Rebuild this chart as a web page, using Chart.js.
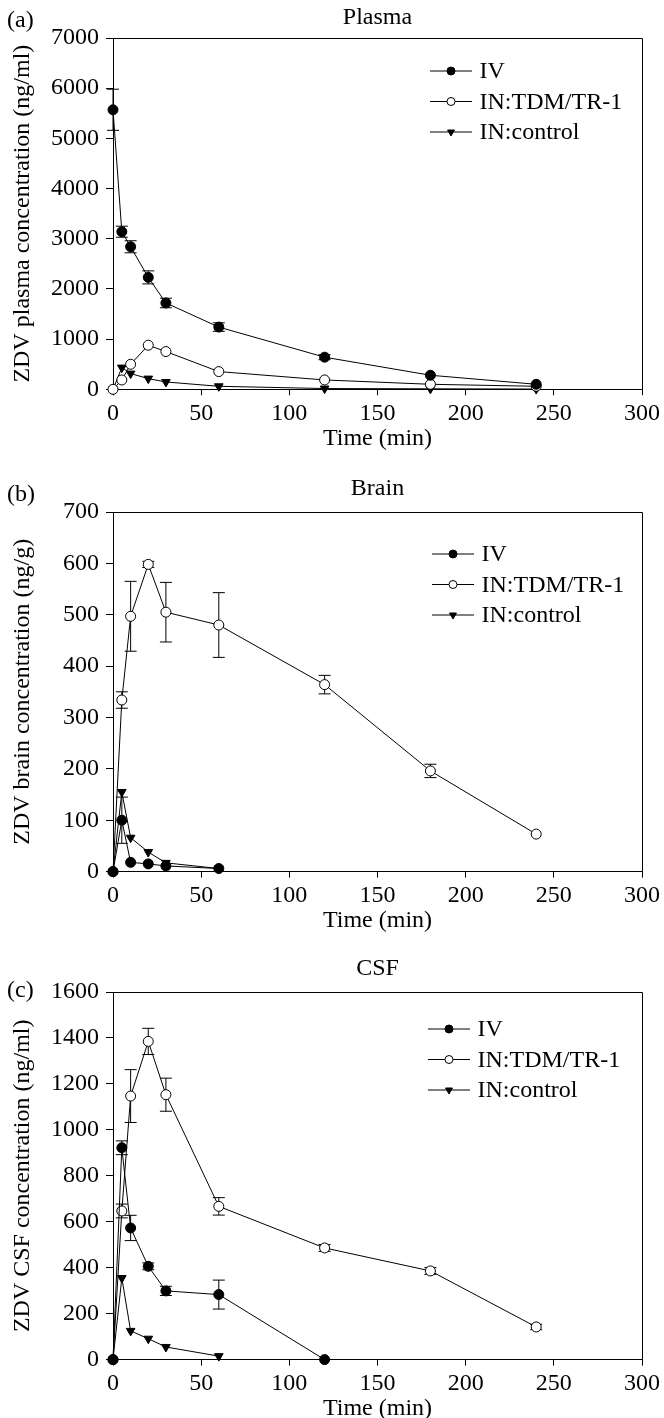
<!DOCTYPE html>
<html>
<head>
<meta charset="utf-8">
<script src="https://cdn.jsdelivr.net/npm/chart.js@4.4.0/dist/chart.umd.min.js"></script>
<style>
  html, body { margin: 0; padding: 0; background: #fff; overflow: hidden; }
  body { width: 664px; height: 1418px; position: relative; }
  canvas { position: absolute; left: 0; }
</style>
</head>
<body>
<canvas id="plasmaChart"></canvas>
<canvas id="brainChart"></canvas>
<canvas id="csfChart"></canvas>
<script>
// sampling times (min)
const timesAll = [0, 5, 10, 20, 30, 60, 120, 180, 240];
const timesShort = [0, 5, 10, 20, 30, 60];
const timesCsfIV = [0, 5, 10, 20, 30, 60, 120];

const seriesNames = ['IV', 'IN:TDM/TR-1', 'IN:control'];

// (a) plasma, ng/ml
const plasmaIV = [5570, 3140, 2840, 2230, 1720, 1240, 640, 280, 100];
const plasmaIVErr = [410, 110, 120, 130, 95, 85, 50, 0, 0];
const plasmaTDM = [0, 186, 499, 878, 752, 353, 186, 100, 60];
const plasmaCtrl = [0, 432, 313, 213, 146, 60, 15, 10, 5];

// (b) brain, ng/g
const brainIV = [0, 100, 18, 15, 11, 6];
const brainIVErr = [0, 45, 0, 0, 0, 0];
const brainTDM = [0, 334, 497, 598, 505, 480, 364, 196, 73];
const brainTDMErr = [0, 16, 68, 6, 58, 63, 18, 13, 0];
const brainCtrl = [0, 155, 66, 38, 17, 6];

// (c) CSF, ng/ml
const csfIV = [0, 922, 573, 406, 299, 283, 0];
const csfIVErr = [0, 30, 55, 15, 20, 63, 0];
const csfTDM = [0, 647, 1147, 1385, 1153, 667, 486, 386, 142];
const csfTDMErr = [0, 30, 115, 57, 72, 38, 15, 15, 12];
const csfCtrl = [0, 355, 125, 91, 55, 15];

const FONT = { family: '"Liberation Serif", "Times New Roman", serif', size: 24 };
const PLOT_LEFT = 113;
const PLOT_RIGHT = 643;
const PAD_TOP = 38;
const X_AXIS_H = 63.4;

function pts(xs, ys) {
  return xs.map((x, i) => ({ x: x, y: ys[i] }));
}

function marker(ctx, style, x, y, r, fill) {
  ctx.beginPath();
  if (style === 'circle') {
    ctx.arc(x, y, r, 0, Math.PI * 2);
  } else {
    ctx.moveTo(x - r * 0.866, y - r * 0.5);
    ctx.lineTo(x + r * 0.866, y - r * 0.5);
    ctx.lineTo(x, y + r);
    ctx.closePath();
  }
  ctx.fillStyle = fill;
  ctx.fill();
  ctx.strokeStyle = '#000';
  ctx.lineWidth = 1;
  ctx.stroke();
}

// error bars, frame, title, panel letter and legend
const extras = {
  id: 'extras',
  beforeDatasetsDraw(chart) {
    const ctx = chart.ctx;
    const y = chart.scales.y;
    ctx.save();
    ctx.strokeStyle = '#000';
    ctx.lineWidth = 1;
    chart.data.datasets.forEach((ds, di) => {
      if (!ds.errors) return;
      const meta = chart.getDatasetMeta(di);
      ds.data.forEach((p, i) => {
        const e = ds.errors[i];
        if (!e) return;
        const px = meta.data[i].x;
        const top = y.getPixelForValue(p.y + e);
        const bot = y.getPixelForValue(p.y - e);
        ctx.beginPath();
        ctx.moveTo(px, top); ctx.lineTo(px, bot);
        ctx.moveTo(px - 6, top); ctx.lineTo(px + 6, top);
        ctx.moveTo(px - 6, bot); ctx.lineTo(px + 6, bot);
        ctx.stroke();
      });
    });
    ctx.restore();
  },
  afterDraw(chart, args, o) {
    const ctx = chart.ctx;
    const a = chart.chartArea;
    ctx.save();
    ctx.strokeStyle = '#000';
    ctx.lineWidth = 1;
    ctx.beginPath();
    ctx.moveTo(Math.round(a.left) + 0.5, Math.round(a.top) + 0.5);
    ctx.lineTo(Math.round(a.right) + 0.5, Math.round(a.top) + 0.5);
    ctx.lineTo(Math.round(a.right) + 0.5, Math.round(a.bottom) + 0.5);
    ctx.stroke();

    ctx.fillStyle = '#000';
    ctx.font = FONT.size + 'px ' + FONT.family;
    ctx.textBaseline = 'middle';
    ctx.textAlign = 'center';
    ctx.fillText(o.title, (a.left + a.right) / 2, a.top + o.titleDy);
    ctx.textAlign = 'left';
    ctx.fillText(o.letter, 7, a.top + o.letterDy);

    const lx = a.left + 317 + o.legendDx;
    chart.data.datasets.forEach((ds, i) => {
      const ly = a.top + o.legendDy + i * 30.5;
      ctx.beginPath();
      ctx.moveTo(lx, ly); ctx.lineTo(lx + 42, ly);
      ctx.stroke();
      marker(ctx, ds.pointStyle, lx + 21, ly, 4, ds.pointBackgroundColor);
      ctx.fillStyle = '#000';
      ctx.fillText(ds.label, lx + 49.5, ly + 1);
    });
    ctx.restore();
  }
};

function series(label, xs, ys, errs, style, fill) {
  return {
    label: label,
    data: pts(xs, ys),
    errors: errs,
    borderColor: '#000',
    borderWidth: 1,
    pointStyle: style,
    pointRotation: style === 'triangle' ? 180 : 0,
    pointRadius: 5,
    pointBorderWidth: 1,
    pointBorderColor: '#000',
    pointBackgroundColor: fill,
    tension: 0,
    fill: false,
    clip: false
  };
}

const plainNum = v => String(v);

function makePanel(id, p) {
  const canvas = document.getElementById(id);
  const plotH = p.bottom - p.top;
  const h = Math.ceil(PAD_TOP + plotH + X_AXIS_H + 3);
  canvas.width = 664;
  canvas.height = h;
  canvas.style.top = (p.top - PAD_TOP) + 'px';
  return new Chart(canvas, {
    type: 'line',
    data: { datasets: p.datasets },
    options: {
      responsive: false,
      animation: false,
      layout: { padding: { top: PAD_TOP, bottom: h - PAD_TOP - plotH - X_AXIS_H, left: 0, right: 664 - PLOT_RIGHT } },
      plugins: {
        legend: { display: false },
        tooltip: { enabled: false },
        extras: p.text
      },
      scales: {
        x: {
          type: 'linear', min: 0, max: 300,
          ticks: { stepSize: 50, color: '#000', font: FONT, padding: 4, callback: plainNum },
          grid: { drawOnChartArea: false, drawTicks: true, tickLength: 6, tickColor: '#000' },
          border: { color: '#000', width: 1 },
          title: { display: true, text: 'Time (min)', color: '#000', font: FONT, padding: 0 },
          afterFit(s) { s.height = X_AXIS_H; }
        },
        y: {
          min: 0, max: p.yMax,
          ticks: { stepSize: p.yStep, color: '#000', font: FONT, padding: 7, callback: plainNum },
          grid: { drawOnChartArea: false, drawTicks: true, tickLength: 7, tickColor: '#000' },
          border: { color: '#000', width: 1 },
          title: { display: true, text: p.yTitle, color: '#000', font: FONT, padding: { top: 8, bottom: 0 } },
          afterFit(s) { s.width = PLOT_LEFT; }
        }
      }
    },
    plugins: [extras]
  });
}

makePanel('plasmaChart', {
  top: 37.7, bottom: 389, yMax: 7000, yStep: 1000,
  yTitle: 'ZDV plasma concentration (ng/ml)',
  text: { title: 'Plasma', titleDy: -20, letter: '(a)', letterDy: -17, legendDy: 33, legendDx: 0 },
  datasets: [
    series(seriesNames[0], timesAll, plasmaIV, plasmaIVErr, 'circle', '#000'),
    series(seriesNames[1], timesAll, plasmaTDM, null, 'circle', '#fff'),
    series(seriesNames[2], timesAll, plasmaCtrl, null, 'triangle', '#000')
  ]
});

makePanel('brainChart', {
  top: 511.7, bottom: 871.3, yMax: 700, yStep: 100,
  yTitle: 'ZDV brain concentration (ng/g)',
  text: { title: 'Brain', titleDy: -23.5, letter: '(b)', letterDy: -17, legendDy: 42, legendDx: 2 },
  datasets: [
    series(seriesNames[0], timesShort, brainIV, brainIVErr, 'circle', '#000'),
    series(seriesNames[1], timesAll, brainTDM, brainTDMErr, 'circle', '#fff'),
    series(seriesNames[2], timesShort, brainCtrl, null, 'triangle', '#000')
  ]
});

makePanel('csfChart', {
  top: 991.7, bottom: 1359.3, yMax: 1600, yStep: 200,
  yTitle: 'ZDV CSF concentration (ng/ml)',
  text: { title: 'CSF', titleDy: -23.5, letter: '(c)', letterDy: -1, legendDy: 37, legendDx: -2 },
  datasets: [
    series(seriesNames[0], timesCsfIV, csfIV, csfIVErr, 'circle', '#000'),
    series(seriesNames[1], timesAll, csfTDM, csfTDMErr, 'circle', '#fff'),
    series(seriesNames[2], timesShort, csfCtrl, null, 'triangle', '#000')
  ]
});
</script>
</body>
</html>
